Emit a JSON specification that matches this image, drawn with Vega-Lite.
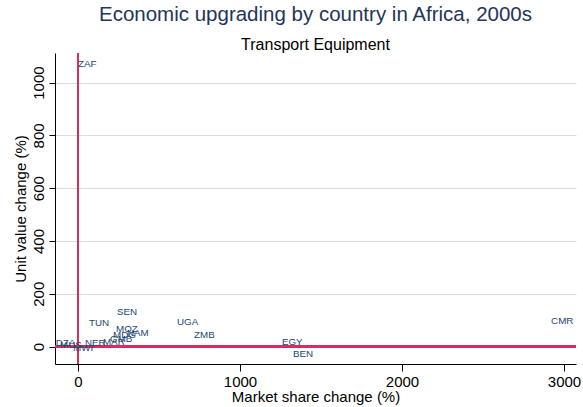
{
  "$schema": "https://vega.github.io/schema/vega-lite/v6.json",
  "width": 521,
  "height": 311,
  "autosize": {"type": "none"},
  "padding": {"left": 55, "top": 53, "right": 7, "bottom": 43},
  "background": "white",
  "config": {
    "view": {"stroke": null},
    "font": "Liberation Sans",
    "axis": {
      "labelFont": "Liberation Sans",
      "titleFont": "Liberation Sans",
      "labelFontSize": 15,
      "titleFontSize": 15,
      "titleFontWeight": "normal",
      "labelColor": "#000000",
      "titleColor": "#000000",
      "domainColor": "#000000",
      "tickColor": "#000000",
      "domainWidth": 1,
      "tickWidth": 1
    }
  },
  "title": {
    "text": "Economic upgrading by country in Africa, 2000s",
    "subtitle": "Transport Equipment",
    "anchor": "middle",
    "frame": "group",
    "font": "Liberation Sans",
    "fontSize": 20.5,
    "fontWeight": "normal",
    "color": "#24355a",
    "subtitleFont": "Liberation Sans",
    "subtitleFontSize": 16,
    "subtitleColor": "#000000",
    "subtitlePadding": 12,
    "offset": -1
  },
  "data": {
    "values": [
      {"country": "ZAF", "ms": 0, "uv": 1070},
      {"country": "CMR", "ms": 2920, "uv": 97},
      {"country": "EGY", "ms": 1259, "uv": 17},
      {"country": "BEN", "ms": 1327, "uv": -28},
      {"country": "UGA", "ms": 611, "uv": 93},
      {"country": "ZMB", "ms": 716, "uv": 44},
      {"country": "SEN", "ms": 241, "uv": 131},
      {"country": "TUN", "ms": 68, "uv": 89},
      {"country": "MOZ", "ms": 235, "uv": 66},
      {"country": "NAM", "ms": 302, "uv": 51},
      {"country": "MDG", "ms": 216, "uv": 44},
      {"country": "GMB", "ms": 198, "uv": 28},
      {"country": "MAR", "ms": 154, "uv": 17},
      {"country": "NER", "ms": 43, "uv": 13},
      {"country": "MWI", "ms": -31, "uv": -6},
      {"country": "MUS", "ms": -111, "uv": 6},
      {"country": "DZA", "ms": -138, "uv": 13}
    ]
  },
  "layer": [
    {
      "mark": {"type": "rule", "color": "#d62f5f", "strokeWidth": 1.5},
      "encoding": {"x": {"datum": 0, "type": "quantitative"}}
    },
    {
      "mark": {"type": "rule", "color": "#d62f5f", "strokeWidth": 1.5},
      "encoding": {"y": {"datum": 0, "type": "quantitative"}}
    },
    {
      "mark": {"type": "text", "align": "left", "baseline": "middle", "fontSize": 9.8, "font": "Liberation Sans", "color": "#1a476f"},
      "encoding": {
        "x": {
          "field": "ms",
          "type": "quantitative",
          "scale": {"domain": [-142, 3074], "nice": false, "zero": false},
          "axis": {
            "title": "Market share change (%)",
            "values": [0, 1000, 2000, 3000],
            "format": "d",
            "grid": false,
            "tickSize": 7,
            "labelPadding": 3,
            "titlePadding": 0
          }
        },
        "y": {
          "field": "uv",
          "type": "quantitative",
          "scale": {"domain": [-66, 1112], "nice": false, "zero": false},
          "axis": {
            "title": "Unit value change (%)",
            "values": [0, 200, 400, 600, 800, 1000],
            "format": "d",
            "grid": true,
            "gridColor": "#dcdcdc",
            "gridWidth": 1,
            "tickSize": 6,
            "labelAngle": 270,
            "labelPadding": 3,
            "titlePadding": 3
          }
        },
        "text": {"field": "country", "type": "nominal"}
      }
    }
  ]
}
